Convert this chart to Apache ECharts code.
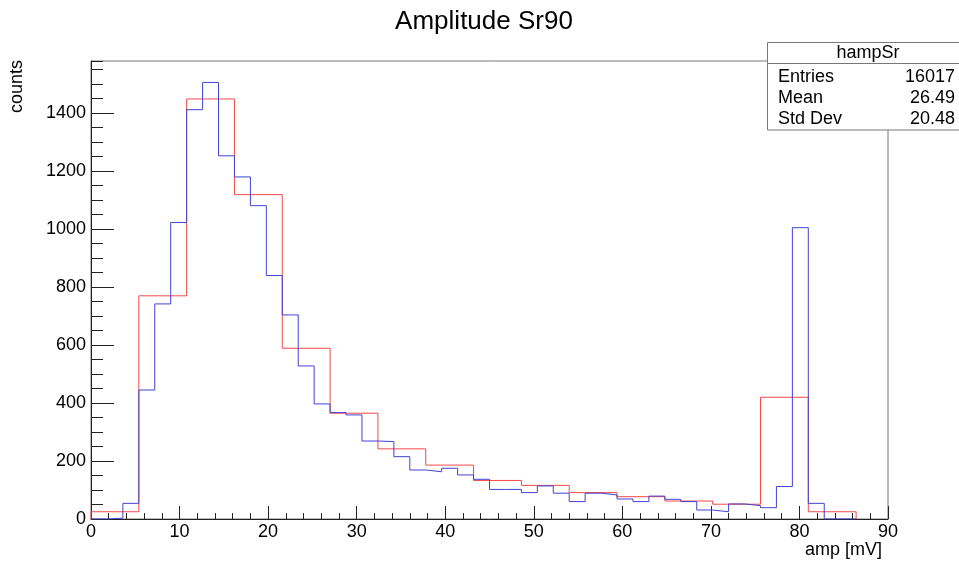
<!DOCTYPE html>
<html>
<head>
<meta charset="utf-8">
<script src="https://cdn.jsdelivr.net/npm/echarts@6/dist/echarts.min.js"></script>
<style>
  html, body { margin: 0; padding: 0; background: #ffffff; }
  #chart { width: 959px; height: 562px; }
</style>
</head>
<body>
<div id="chart"></div>
<script>
// ---- Data ----
const titleText = 'Amplitude Sr90';
const xAxisTitle = 'amp [mV]';
const yAxisTitle = 'counts';

// Blue histogram: 48 bins, width 1.8 mV, from 0
const blueBinWidth = 1.8;
const blueCounts = [
  0, 3, 54, 445, 742, 1023, 1412, 1506, 1253, 1180, 1081, 840,
  704, 528, 397, 367, 359, 269, 267, 215, 169, 163, 175, 152,
  137, 102, 102, 91, 114, 89, 60, 89, 83, 69, 60, 79,
  68, 60, 31, 25, 52, 46, 39, 112, 1005, 54, 0, 0
];

// Red histogram: 16 bins, width 5.4 mV, from 0
const redBinWidth = 5.4;
const redCounts = [
  25, 770, 1449, 1119, 589, 365, 242, 186,
  133, 116, 91, 77, 62, 51, 420, 25
];

// Stats box
const statsName = 'hampSr';
const statsLabels = ['Entries', 'Mean', 'Std Dev'];
const statsValues = ['16017', '26.49', '20.48'];

// Axis ranges
const xMin = 0, xMax = 90, xInterval = 10;
const yMin = 0, yMax = 1580, yInterval = 200, yMinorInterval = 50;

// ---- Build step outlines ----
function stepData(counts, width) {
  const pts = [[0, 0]];
  counts.forEach((c, i) => pts.push([+(i * width).toFixed(3), c]));
  pts.push([+(counts.length * width).toFixed(3), 0]);
  return pts;
}

const FONT = 'Liberation Sans, Arial, Helvetica, sans-serif';
const chart = echarts.init(document.getElementById('chart'), null, { renderer: 'canvas' });

const statsTop = 42.5, statsLeft = 767.5, statsRowY = [77.5, 98.5, 119.5];
const graphics = [
  { type: 'text', x: 484, y: 22, style: { text: titleText, font: '26px ' + FONT, fill: '#000', align: 'center', verticalAlign: 'middle' } },
  { type: 'text', x: 17, y: 60, rotation: Math.PI / 2, style: { text: yAxisTitle, font: '18px ' + FONT, fill: '#000', align: 'right', verticalAlign: 'middle' } },
  { type: 'text', x: 882, y: 550, style: { text: xAxisTitle, font: '18px ' + FONT, fill: '#000', align: 'right', verticalAlign: 'middle' } },
  { type: 'rect', shape: { x: statsLeft, y: statsTop, width: 200, height: 87.5 }, style: { fill: '#fff', stroke: '#777', lineWidth: 1 }, z: 100 },
  { type: 'line', shape: { x1: statsLeft, y1: 63.5, x2: 959, y2: 63.5 }, style: { stroke: '#777', lineWidth: 1 }, z: 101 },
  { type: 'text', x: 868, y: 53, style: { text: statsName, font: '18px ' + FONT, fill: '#000', align: 'center', verticalAlign: 'middle' }, z: 102 }
];
statsLabels.forEach((lab, i) => {
  graphics.push({ type: 'text', x: 778, y: statsRowY[i], style: { text: lab, font: '18px ' + FONT, fill: '#000', align: 'left', verticalAlign: 'middle' }, z: 102 });
  graphics.push({ type: 'text', x: 955, y: statsRowY[i], style: { text: statsValues[i], font: '18px ' + FONT, fill: '#000', align: 'right', verticalAlign: 'middle' }, z: 102 });
});

const option = {
  animation: false,
  backgroundColor: '#ffffff',
  textStyle: { fontFamily: FONT },
  grid: {
    left: 91, right: 71, top: 61, bottom: 43,
    show: true, borderColor: '#777', borderWidth: 1, backgroundColor: 'transparent'
  },
  xAxis: {
    type: 'value', min: xMin, max: xMax, interval: xInterval,
    axisLine: { show: true, onZero: false, lineStyle: { color: '#222', width: 1 } },
    axisTick: { show: true, inside: true, length: 13, lineStyle: { color: '#222' } },
    minorTick: { show: true, splitNumber: 5, length: 6, lineStyle: { color: '#222' } },
    axisLabel: { color: '#000', fontSize: 18, fontFamily: FONT, margin: 4, formatter: v => String(v) },
    splitLine: { show: false }
  },
  yAxis: [
    {
      type: 'value', min: yMin, max: yMax, interval: yInterval, position: 'left',
      axisLine: { show: true, onZero: false, lineStyle: { color: '#222', width: 1 } },
      axisTick: { show: true, inside: true, length: 23, lineStyle: { color: '#222' } },
      axisLabel: { color: '#000', fontSize: 18, fontFamily: FONT, margin: 5, showMaxLabel: false, formatter: v => String(v) },
      splitLine: { show: false }
    },
    {
      type: 'value', min: yMin, max: yMax, interval: yMinorInterval, position: 'left', offset: 0,
      alignTicks: false,
      axisLine: { show: false },
      axisTick: { show: true, inside: true, length: 12, lineStyle: { color: '#222' } },
      axisLabel: { show: false },
      splitLine: { show: false }
    }
  ],
  series: [
    {
      name: 'red', type: 'line', step: 'end', yAxisIndex: 0,
      data: stepData(redCounts, redBinWidth),
      symbol: 'none', lineStyle: { color: '#f04a4a', width: 1 }, z: 2
    },
    {
      name: 'blue', type: 'line', step: 'end', yAxisIndex: 0,
      data: stepData(blueCounts, blueBinWidth),
      symbol: 'none', lineStyle: { color: '#4242d4', width: 1 }, z: 3
    }
  ],
  graphic: graphics
};
chart.setOption(option);
</script>
</body>
</html>
